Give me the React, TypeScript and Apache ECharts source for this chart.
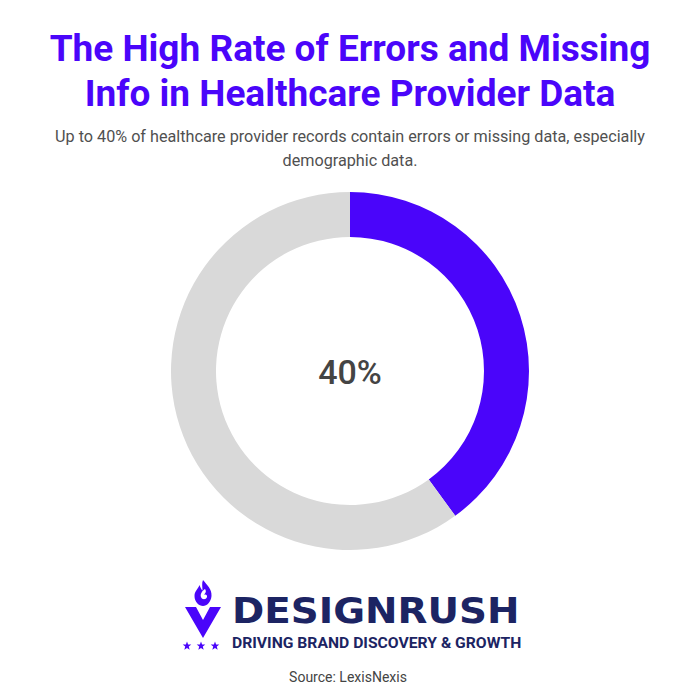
import React, { useEffect, useRef } from "react";
import * as echarts from "echarts";

const titleLines = ["The High Rate of Errors and Missing", "Info in Healthcare Provider Data"];
const subtitleLines = [
  "Up to 40% of healthcare provider records contain errors or missing data, especially",
  "demographic data.",
];
const categories = ["Errors or missing data", "Other records"];
const values = [40, 60];
const centerLabel = "40%";
const sourceText = "Source: LexisNexis";
const brandName = "DESIGNRUSH";
const brandTagline = "DRIVING BRAND DISCOVERY & GROWTH";

const PURPLE = "#4A05FA";
const NAVY = "#1C2463";

echarts.graphic.registerShape(
  "flame",
  echarts.graphic.extendPath(
    "M10 0 C14 5 19 9 18.5 16 C18 22 14 26 10 26 C6 26 1.5 22 1.5 16 C1.5 11 5 9 6.5 5 C7.5 8 8.5 9.5 9.5 10.5 C9.5 7 8.5 3 10 0 Z",
    {}
  )
);
echarts.graphic.registerShape(
  "swirl",
  echarts.graphic.extendPath(
    "M12 9 C9 11 7 14 8 17 C9 20 13 20 14 17 C14.5 15 12.5 14 11 15 C12 13 14 12 12 9 Z",
    {}
  )
);

function starPoints(cx: number, cy: number, r: number): number[][] {
  const pts: number[][] = [];
  for (let i = 0; i < 10; i++) {
    const a = -Math.PI / 2 + (i * Math.PI) / 5;
    const rr = i % 2 === 0 ? r : r * 0.42;
    pts.push([cx + rr * Math.cos(a), cy + rr * Math.sin(a)]);
  }
  return pts;
}

export default function App() {
  const ref = useRef<HTMLDivElement>(null);
  useEffect(() => {
    document.body.style.margin = "0";
    const chart = echarts.init(ref.current!, null, { renderer: "svg" });
    const graphics: any[] = [];
    titleLines.forEach((t, i) => {
      graphics.push({
        type: "text",
        x: 350,
        y: 48 + i * 45,
        style: {
          text: t,
          fill: PURPLE,
          font: "bold 37px Roboto",
          textAlign: "center",
          textVerticalAlign: "middle",
        },
      });
    });
    subtitleLines.forEach((t, i) => {
      graphics.push({
        type: "text",
        x: 350,
        y: 136 + i * 24,
        style: {
          text: t,
          fill: "#505050",
          font: "16.2px Roboto",
          textAlign: "center",
          textVerticalAlign: "middle",
        },
      });
    });
    graphics.push({
      type: "text",
      x: 350,
      y: 372,
      style: {
        text: centerLabel,
        fill: "#444444",
        font: "500 34px Roboto",
        textAlign: "center",
        textVerticalAlign: "middle",
      },
    });
    graphics.push({
      type: "flame",
      x: 193,
      y: 580,
      style: { fill: PURPLE },
    });
    graphics.push({
      type: "swirl",
      x: 193,
      y: 580,
      style: { fill: "#ffffff" },
    });
    graphics.push({
      type: "polygon",
      shape: {
        points: [
          [185, 607],
          [196, 607],
          [203, 620],
          [210, 607],
          [221, 607],
          [203, 638],
        ],
      },
      style: { fill: PURPLE },
    });
    [187, 201, 215].forEach((cx) => {
      graphics.push({
        type: "polygon",
        shape: { points: starPoints(cx, 646, 4.5) },
        style: { fill: PURPLE },
      });
    });
    graphics.push({
      type: "text",
      x: 232,
      y: 611,
      scaleX: 1.11,
      style: {
        text: brandName,
        fill: NAVY,
        font: "bold 35px 'DejaVu Sans'",
        textAlign: "left",
        textVerticalAlign: "middle",
      },
    });
    graphics.push({
      type: "text",
      x: 232,
      y: 643,
      scaleX: 1.047,
      style: {
        text: brandTagline,
        fill: NAVY,
        font: "bold 15px Roboto",
        textAlign: "left",
        textVerticalAlign: "middle",
      },
    });
    graphics.push({
      type: "text",
      x: 348,
      y: 677,
      style: {
        text: sourceText,
        fill: "#444444",
        font: "14px Roboto",
        textAlign: "center",
        textVerticalAlign: "middle",
      },
    });

    chart.setOption({
      animation: false,
      backgroundColor: "#ffffff",
      graphic: graphics,
      series: [
        {
          type: "pie",
          center: [350, 371],
          radius: [134, 179],
          startAngle: 90,
          clockwise: true,
          silent: true,
          label: { show: false },
          labelLine: { show: false },
          itemStyle: { borderWidth: 0 },
          data: categories.map((c, i) => ({
            name: c,
            value: values[i],
            itemStyle: { color: i === 0 ? PURPLE : "#D9D9D9" },
          })),
        },
      ],
    });
    return () => chart.dispose();
  }, []);
  return <div ref={ref} style={{ width: 700, height: 700 }} />;
}
